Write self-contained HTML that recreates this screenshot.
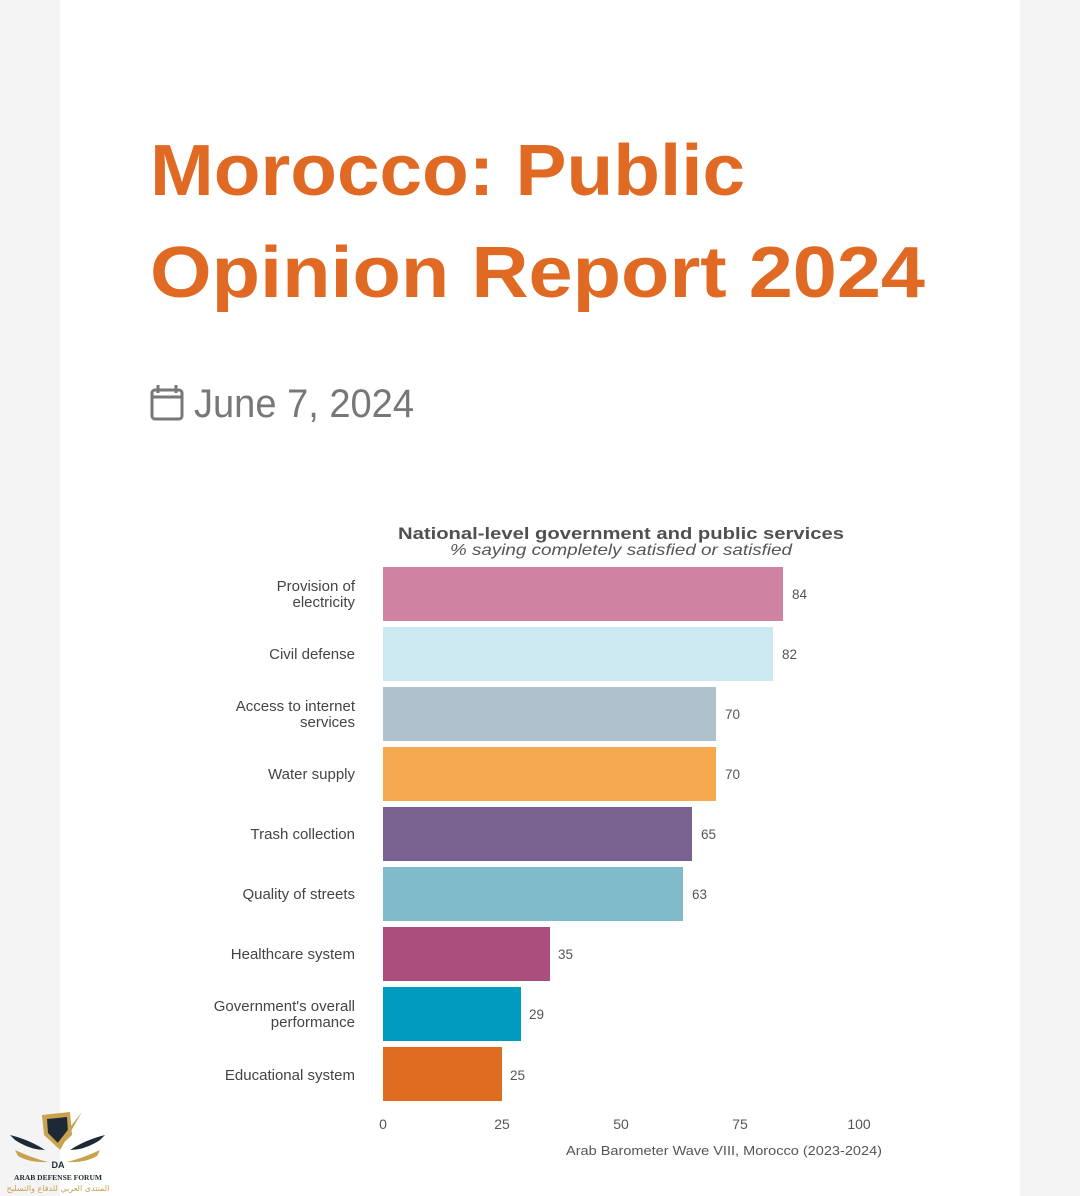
<!DOCTYPE html>
<html><head><meta charset="utf-8"><style>
html,body{margin:0;padding:0;background:#f4f4f4;}
svg{display:block;font-family:"Liberation Sans",sans-serif;}
</style></head><body>
<svg width="1080" height="1196" viewBox="0 0 1080 1196" xmlns="http://www.w3.org/2000/svg">
<rect width="1080" height="1196" fill="#f4f4f4"/>
<rect x="60" y="0" width="960" height="1196" fill="#ffffff"/>
<g fill="#e06a24" font-weight="bold" font-size="72">
<text x="150" y="195" textLength="595" lengthAdjust="spacingAndGlyphs">Morocco: Public</text>
<text x="150" y="297" textLength="775" lengthAdjust="spacingAndGlyphs">Opinion Report 2024</text>
</g>
<g fill="none" stroke="#777" stroke-width="3">
<rect x="152" y="390" width="30" height="29" rx="3"/>
<line x1="152" y1="397" x2="182" y2="397"/>
<line x1="158" y1="385" x2="158" y2="393"/>
<line x1="176" y1="385" x2="176" y2="393"/>
</g>
<text x="194" y="417" font-size="40" fill="#777" textLength="220" lengthAdjust="spacingAndGlyphs">June 7, 2024</text>
<text x="621" y="539" font-size="17" font-weight="bold" fill="#505050" text-anchor="middle" textLength="446" lengthAdjust="spacingAndGlyphs">National-level government and public services</text>
<text x="621" y="555" font-size="16" font-style="italic" fill="#555" text-anchor="middle" textLength="342" lengthAdjust="spacingAndGlyphs">% saying completely satisfied or satisfied</text>
<g>
<rect x="383" y="567" width="400" height="54" fill="#cf83a1"/>
<rect x="383" y="627" width="390" height="54" fill="#cce9f1"/>
<rect x="383" y="687" width="333" height="54" fill="#afc1cc"/>
<rect x="383" y="747" width="333" height="54" fill="#f7a94f"/>
<rect x="383" y="807" width="309" height="54" fill="#7a6290"/>
<rect x="383" y="867" width="300" height="54" fill="#7fbbc9"/>
<rect x="383" y="927" width="167" height="54" fill="#aa4f7d"/>
<rect x="383" y="987" width="138" height="54" fill="#009bbf"/>
<rect x="383" y="1047" width="119" height="54" fill="#e06c22"/>
</g>
<g font-size="13.5" fill="#555">
<text x="792" y="599">84</text>
<text x="782" y="659">82</text>
<text x="725" y="719">70</text>
<text x="725" y="779">70</text>
<text x="701" y="839">65</text>
<text x="692" y="899">63</text>
<text x="558" y="959">35</text>
<text x="529" y="1019">29</text>
<text x="510" y="1080">25</text>
</g>
<g font-size="15" fill="#444" text-anchor="end">
<text x="355" y="591">Provision of</text>
<text x="355" y="607">electricity</text>
<text x="355" y="659">Civil defense</text>
<text x="355" y="711">Access to internet</text>
<text x="355" y="727">services</text>
<text x="355" y="779">Water supply</text>
<text x="355" y="839">Trash collection</text>
<text x="355" y="899">Quality of streets</text>
<text x="355" y="959">Healthcare system</text>
<text x="355" y="1011">Government's overall</text>
<text x="355" y="1027">performance</text>
<text x="355" y="1080">Educational system</text>
</g>
<g font-size="14" fill="#555" text-anchor="middle">
<text x="383" y="1129">0</text>
<text x="502" y="1129">25</text>
<text x="621" y="1129">50</text>
<text x="740" y="1129">75</text>
<text x="859" y="1129">100</text>
</g>
<text x="566" y="1155" font-size="13" fill="#555" textLength="316" lengthAdjust="spacingAndGlyphs">Arab Barometer Wave VIII, Morocco (2023-2024)</text>
<g>
<path d="M42 1115 L70 1112 L72 1135 L58 1148 L44 1135 Z" fill="#c9a24f"/>
<path d="M47 1119 L67 1117 L68 1133 L58 1143 L48 1133 Z" fill="#1d2a36"/>
<path d="M82 1112 L60 1150 L56 1145 Z" fill="#c9a24f"/>
<path d="M10 1135 Q30 1140 45 1150 Q30 1150 15 1140 Z" fill="#1d2a36"/>
<path d="M105 1135 Q85 1140 70 1150 Q85 1150 100 1140 Z" fill="#1d2a36"/>
<path d="M15 1150 Q32 1158 48 1162 Q30 1163 18 1156 Z" fill="#c9a24f"/>
<path d="M100 1150 Q83 1158 67 1162 Q85 1163 97 1156 Z" fill="#c9a24f"/>
<text x="58" y="1168" font-size="9" font-weight="bold" fill="#1d2a36" text-anchor="middle">DA</text>
<text x="58" y="1180" font-size="7.5" font-family="Liberation Serif,serif" font-weight="bold" fill="#1d2a36" text-anchor="middle">ARAB DEFENSE FORUM</text>
<text x="58" y="1191" font-size="8" fill="#c9a24f" text-anchor="middle" font-family="DejaVu Sans,sans-serif">المنتدى العربي للدفاع والتسليح</text>
</g>
</svg>
</body></html>
